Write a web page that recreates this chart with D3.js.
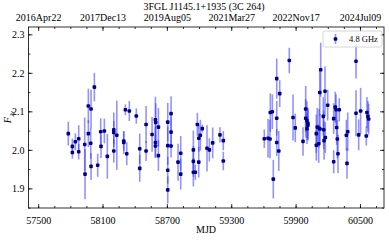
<!DOCTYPE html>
<html><head><meta charset="utf-8">
<script src="https://cdn.jsdelivr.net/npm/d3@7"></script>
<style>body{margin:0;background:#fff}svg{display:block}text{font-family:"Liberation Serif","Times New Roman",serif;fill:#000}</style>
</head><body>
<svg id="c" width="389" height="240"></svg>
<script>
const title = "3FGL J1145.1+1935 (3C 264)";
const seriesName = "4.8 GHz";
const mjd = [57781,57819,57819,57847,57878,57878,57934,57937,57968,57968,57990,57993,57993,58024,58055,58083,58086,58117,58145,58205,58205,58205,58233,58298,58298,58313,58326,58350,58415,58447,58447,58506,58506,58562,58593,58596,58593,58593,58621,58621,58708,58708,58708,58708,58739,58739,58739,58804,58829,58829,58947,58947,58947,58965,58984,58997,58997,59012,59030,59074,59096,59127,59195,59226,59226,59608,59643,59661,59664,59683,59692,59724,59724,59724,59743,59752,59841,59876,59897,59969,59994,59994,60006,60015,60015,60006,60093,60102,60093,60115,60119,60128,60125,60134,60158,60174,60162,60165,60177,60199,60255,60255,60270,60277,60283,60289,60295,60307,60373,60379,60386,60463,60463,60488,60506,60559,60565,60574,60581];
const flux = [2.042,2.009,1.993,2.021,2.029,1.995,2.014,1.937,2.114,2.042,2.017,2.106,1.957,2.163,1.960,2.047,2.009,2.049,1.983,2.052,2.045,1.997,2.038,2.023,2.019,2.104,1.990,2.101,2.088,2.003,1.952,2.066,1.997,2.040,2.078,2.071,2.019,2.010,2.059,1.985,2.072,2.011,1.947,1.896,2.094,2.046,2.010,1.968,1.991,1.937,2.000,1.970,1.942,1.942,2.066,2.030,1.968,2.038,2.055,2.004,2.000,2.018,2.039,2.024,1.971,2.029,2.030,2.028,2.097,2.099,1.924,2.185,2.082,2.019,1.997,2.146,2.232,2.084,2.057,2.022,2.106,2.082,2.076,2.069,2.064,2.055,2.042,2.059,2.012,2.016,2.056,2.054,2.149,2.208,2.087,2.152,2.052,2.024,2.032,2.116,2.081,1.969,2.111,2.104,2.058,2.028,1.990,2.104,2.038,1.965,2.047,2.230,2.095,2.039,2.101,2.036,2.097,2.087,2.080];
const err = [0.031,0.02,0.016,0.022,0.035,0.02,0.07,0.065,0.045,0.035,0.04,0.05,0.035,0.037,0.03,0.035,0.03,0.032,0.058,0.045,0.03,0.03,0.09,0.025,0.03,0.014,0.03,0.026,0.02,0.039,0.035,0.048,0.026,0.045,0.06,0.05,0.04,0.03,0.05,0.04,0.05,0.05,0.035,0.035,0.045,0.04,0.03,0.048,0.045,0.04,0.05,0.04,0.037,0.02,0.03,0.035,0.04,0.04,0.01,0.06,0.03,0.04,0.02,0.025,0.024,0.024,0.05,0.05,0.05,0.045,0.05,0.052,0.045,0.035,0.052,0.035,0.033,0.06,0.037,0.037,0.06,0.05,0.05,0.04,0.04,0.04,0.05,0.05,0.04,0.05,0.05,0.04,0.06,0.07,0.05,0.065,0.05,0.05,0.04,0.04,0.04,0.03,0.04,0.04,0.045,0.05,0.05,0.03,0.04,0.04,0.05,0.045,0.06,0.04,0.06,0.025,0.04,0.04,0.04];
const xTicks = [57500,58100,58700,59300,59900,60500];
const topLabels = ["2016Apr22","2017Dec13","2019Aug05","2021Mar27","2022Nov17","2024Jul09"];
const yTicks = [1.9,2.0,2.1,2.2,2.3];

const L=28.5,R=384,T=27,B=208;
const svg=d3.select("#c");
const x=d3.scaleLinear().domain([57410,60724]).range([L,R]);
const y=d3.scaleLinear().domain([1.849,2.319]).range([B,T]);
const xMinor=d3.range(57350,60750,150).filter(v=>v>57410&&v<60724);
const yMinor=d3.range(1.85,2.32,0.05).map(v=>+v.toFixed(2));

function styleAxis(g){g.select(".domain").remove();g.selectAll("line").attr("stroke","#000").attr("stroke-width",0.8);g.selectAll("text").attr("font-size","10px").attr("font-family","Liberation Serif, serif");}

// bottom
svg.append("g").attr("transform",`translate(0,${B})`).call(d3.axisBottom(x).tickValues(xMinor).tickSize(-2).tickFormat("")).call(styleAxis);
svg.append("g").attr("transform",`translate(0,${B})`).call(d3.axisBottom(x).tickValues(xTicks).tickSize(-4).tickPadding(9).tickFormat(d3.format("d"))).call(styleAxis);
// top
svg.append("g").attr("transform",`translate(0,${T})`).call(d3.axisTop(x).tickValues(xMinor).tickSize(-2).tickFormat("")).call(styleAxis);
svg.append("g").attr("transform",`translate(0,${T})`).call(d3.axisTop(x).tickValues(xTicks).tickSize(-4).tickPadding(6).tickFormat((d,i)=>topLabels[i])).call(styleAxis);
// left
svg.append("g").attr("transform",`translate(${L},0)`).call(d3.axisLeft(y).tickValues(yMinor).tickSize(-2).tickFormat("")).call(styleAxis);
svg.append("g").attr("transform",`translate(${L},0)`).call(d3.axisLeft(y).tickValues(yTicks).tickSize(-4).tickPadding(4).tickFormat(d3.format(".1f"))).call(styleAxis);
// right
svg.append("g").attr("transform",`translate(${R},0)`).call(d3.axisRight(y).tickValues(yMinor).tickSize(-2).tickFormat("")).call(styleAxis);
svg.append("g").attr("transform",`translate(${R},0)`).call(d3.axisRight(y).tickValues(yTicks).tickSize(-4).tickFormat("")).call(styleAxis);

svg.append("rect").attr("x",L).attr("y",T).attr("width",R-L).attr("height",B-T).attr("fill","none").attr("stroke","#000").attr("stroke-width",0.8);

const data=mjd.map((m,i)=>({m,f:flux[i],e:err[i]}));
svg.append("g").selectAll("line").data(data).join("line")
 .attr("x1",d=>x(d.m)).attr("x2",d=>x(d.m)).attr("y1",d=>y(d.f-d.e)).attr("y2",d=>y(d.f+d.e))
 .attr("stroke","#3a3aff").attr("stroke-opacity",0.55).attr("stroke-width",1.6);
svg.append("g").selectAll("rect").data(data).join("rect")
 .attr("x",d=>x(d.m)-1.8).attr("y",d=>y(d.f)-1.8).attr("width",3.6).attr("height",3.6).attr("rx",1)
 .attr("fill","#00008b");

// title etc
svg.append("text").attr("x",204).attr("y",10).attr("text-anchor","middle").attr("font-size","10px").text(title);
svg.append("text").attr("x",206).attr("y",233).attr("text-anchor","middle").attr("font-size","10px").text("MJD");
const yl=svg.append("text").attr("transform","translate(11,117) rotate(-90)").attr("text-anchor","middle").attr("font-size","10px");
yl.append("tspan").attr("font-style","italic").text("F");
yl.append("tspan").attr("font-style","italic").attr("font-size","7px").attr("dy",2.5).text("Jy");

// legend
const lg=svg.append("g");
lg.append("rect").attr("x",323).attr("y",31).attr("width",59).attr("height",16).attr("rx",2).attr("fill","#fff").attr("fill-opacity",0.8).attr("stroke","#ccc").attr("stroke-width",0.8);
lg.append("line").attr("x1",335.5).attr("x2",335.5).attr("y1",34).attr("y2",44).attr("stroke","#3a3aff").attr("stroke-opacity",0.55).attr("stroke-width",1.6);
lg.append("rect").attr("x",333.7).attr("y",37.2).attr("width",3.6).attr("height",3.6).attr("rx",1).attr("fill","#00008b");
lg.append("text").attr("x",349).attr("y",42).attr("font-size","8.5px").text(seriesName);
</script>
</body></html>
